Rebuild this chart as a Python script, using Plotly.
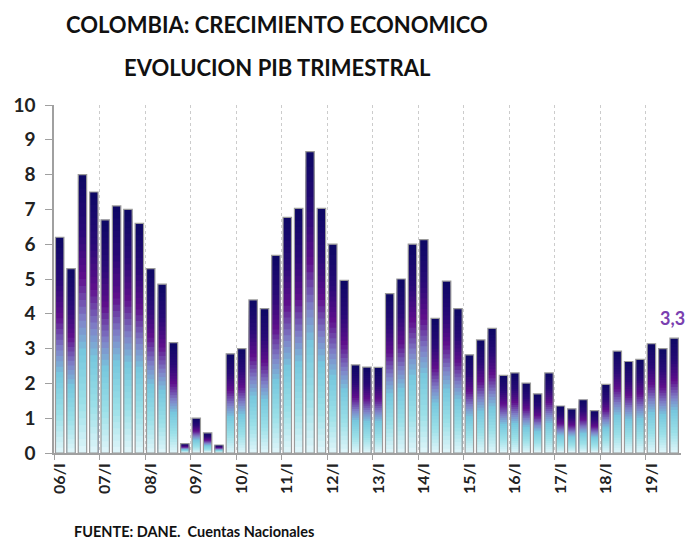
import plotly.graph_objects as go

years = ["06", "07", "08", "09", "10", "11", "12", "13", "14", "15", "16", "17", "18", "19"]
quarters = ["I", "II", "III", "IV"]
periods = [f"{y}/{q}" for y in years for q in quarters][:55]

pib = [6.2, 5.3, 8.0, 7.5, 6.7, 7.1, 7.0, 6.6,
       5.3, 4.85, 3.17, 0.27, 1.0, 0.58, 0.23, 2.85,
       3.0, 4.4, 4.15, 5.68, 6.77, 7.03, 8.66, 7.03,
       6.0, 4.96, 2.53, 2.47, 2.46, 4.58, 5.0, 6.0,
       6.13, 3.87, 4.94, 4.15, 2.82, 3.25, 3.58, 2.23,
       2.3, 2.01, 1.7, 2.3, 1.35, 1.27, 1.53, 1.22,
       1.97, 2.93, 2.63, 2.69, 3.14, 3.0, 3.3]

tick_labels = [f"{y}/I" for y in years]
y_ticks = list(range(0, 11))
last_label = "3,3"

x = list(range(len(pib)))

stops = [(0.0, (225, 245, 250)), (0.18, (155, 224, 232)), (0.36, (120, 200, 222)),
         (0.48, (128, 130, 200)), (0.63, (95, 15, 140)), (0.80, (40, 10, 118)),
         (1.0, (12, 8, 100))]


def color_at(t):
    for (a, ca), (b, cb) in zip(stops[:-1], stops[1:]):
        if a <= t <= b:
            f = (t - a) / (b - a)
            c = [round(ca[i] + (cb[i] - ca[i]) * f) for i in range(3)]
            return f"rgb({c[0]},{c[1]},{c[2]})"
    return "rgb(12,8,100)"


fig = go.Figure()
N = 40
for k in range(N, 0, -1):
    fig.add_trace(go.Bar(
        x=x, y=[v * k / N for v in pib], base=[0] * len(pib),
        width=0.74, marker=dict(color=color_at((k - 0.5) / N), line=dict(width=0)),
        hoverinfo="skip", showlegend=False))

fig.add_trace(go.Bar(
    x=x, y=pib, base=[0] * len(pib), width=0.74,
    marker=dict(color="rgba(0,0,0,0)", line=dict(color="#9a9a9a", width=1.2)),
    showlegend=False, text=periods, textposition="none",
    hovertemplate="%{text}: %{y}<extra></extra>"))

fig.add_annotation(x=x[-1], y=pib[-1], text=f"<b>{last_label}</b>", showarrow=False,
                   yanchor="bottom", yshift=7, xshift=-2,
                   font=dict(family="Lato", size=18, color="#7a3fb0"))

fig.add_annotation(xref="paper", yref="paper", x=0.356, y=1.23, text="<b>COLOMBIA: CRECIMIENTO ECONOMICO</b>",
                   showarrow=False, xanchor="center", yanchor="middle",
                   font=dict(family="Lato", size=22, color="#111111"))
fig.add_annotation(xref="paper", yref="paper", x=0.356, y=1.109, text="<b>EVOLUCION PIB TRIMESTRAL</b>",
                   showarrow=False, xanchor="center", yanchor="middle",
                   font=dict(family="Lato", size=22, color="#111111"))
fig.add_annotation(xref="paper", yref="paper", x=0.029, y=-0.227, text="<b>FUENTE: DANE.  Cuentas Nacionales</b>",
                   showarrow=False, xanchor="left", yanchor="middle",
                   font=dict(family="Lato", size=14.5, color="#111111"))

fig.update_layout(
    width=689, height=544,
    margin=dict(l=54, r=8, t=105, b=91, autoexpand=False),
    paper_bgcolor="white", plot_bgcolor="white",
    barmode="overlay",
    xaxis=dict(range=[-0.5, 54.6], tickmode="array", tickvals=[4 * i for i in range(len(years))],
               ticktext=[f"<b>{t}</b>" for t in tick_labels], tickangle=-90, showgrid=False,
               tickfont=dict(family="Lato", size=16, color="#222222"), ticklabelstandoff=2,
               showline=True, linecolor="#a0a0a0", linewidth=1.5, ticks="", zeroline=False,
               minor=dict(tickmode="linear", tick0=-0.5, dtick=4, showgrid=True,
                          gridcolor="#cccccc", griddash="dot", gridwidth=1,
                          ticks="outside", ticklen=5, tickcolor="#a0a0a0")),
    yaxis=dict(range=[0, 10], tickmode="array", tickvals=y_ticks,
               ticktext=[f"<b>{t}</b>" for t in y_ticks], showgrid=False, zeroline=False,
               showline=True, linecolor="#a0a0a0", linewidth=1.5,
               ticks="outside", ticklen=7, tickcolor="#a0a0a0", ticklabelstandoff=6,
               tickfont=dict(family="Lato", size=19, color="#222222")),
)

fig.write_html("out.html", config={"displayModeBar": False},
               post_script="document.body.style.margin='0';")
